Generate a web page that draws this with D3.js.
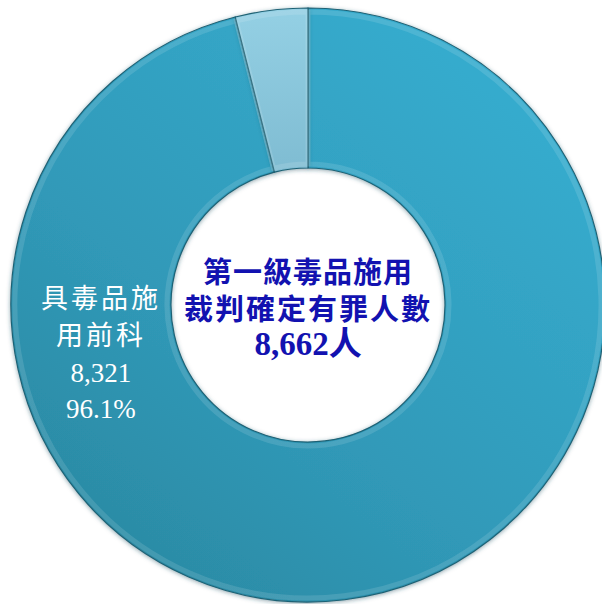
<!DOCTYPE html>
<html>
<head>
<meta charset="utf-8">
<script src="https://cdn.jsdelivr.net/npm/d3@7"></script>
<style>
  html, body { margin: 0; padding: 0; background: #fff; }
</style>
</head>
<body>
<svg id="chart" width="602" height="604"></svg>
<script>
// data
var categories = ["具毒品施用前科", "無毒品施用前科"];
var values = [8321, 341];
var percents = ["96.1%", "3.9%"];
var centerLines = ["第一級毒品施用", "裁判確定有罪人數", "8,662人"];
var labelLines = ["具毒品施", "用前科", "8,321", "96.1%"];

var svg = d3.select("#chart"),
    cx = 308, cy = 305,
    outerR = 297, innerR = 137;

var defs = svg.append("defs");

// big slice gradient: light at top right, darker to bottom left
var grad = defs.append("linearGradient")
    .attr("id", "bigGrad")
    .attr("gradientUnits", "userSpaceOnUse")
    .attr("x1", cx + 200).attr("y1", cy - 250)
    .attr("x2", cx - 220).attr("y2", cy + 260);
grad.append("stop").attr("offset", "0%").attr("stop-color", "#36abcd");
grad.append("stop").attr("offset", "55%").attr("stop-color", "#3099b8");
grad.append("stop").attr("offset", "100%").attr("stop-color", "#2a879f");

var grad2 = defs.append("linearGradient")
    .attr("id", "smallGrad")
    .attr("x1", 0).attr("y1", 0).attr("x2", 0).attr("y2", 1);
grad2.append("stop").attr("offset", "0%").attr("stop-color", "#94d0e4");
grad2.append("stop").attr("offset", "100%").attr("stop-color", "#7fbcd2");

var shadow = defs.append("filter")
    .attr("id", "shadow")
    .attr("x", "-10%").attr("y", "-10%")
    .attr("width", "120%").attr("height", "120%");
shadow.append("feDropShadow")
    .attr("dx", 0).attr("dy", 1)
    .attr("stdDeviation", 2)
    .attr("flood-color", "#1b4f5e")
    .attr("flood-opacity", 0.5);

var colors = ["url(#bigGrad)", "url(#smallGrad)"];

var pie = d3.pie().sort(null).value(function(d) { return d; });
var arc = d3.arc().innerRadius(innerR).outerRadius(outerR);
var edgeArc = d3.arc().innerRadius(innerR + 4).outerRadius(outerR - 4);

var group = svg.append("g")
    .attr("transform", "translate(" + cx + "," + cy + ")");

var slices = group.selectAll("g.slice")
    .data(pie(values))
    .enter().append("g")
    .attr("class", "slice");

slices.append("path")
    .attr("d", arc)
    .attr("fill", function(d, i) { return colors[i]; })
    .attr("stroke", "#1f6275")
    .attr("stroke-width", 1.2)
    .attr("filter", "url(#shadow)");

// soft bevel highlight inside each slice
slices.append("path")
    .attr("d", edgeArc)
    .attr("fill", "none")
    .attr("stroke", "#ffffff")
    .attr("stroke-opacity", 0.12)
    .attr("stroke-width", 5);

// label of the big slice, on the left side of the ring
var labelAngle = 4.44, labelR = 215;
var lx = labelR * Math.sin(labelAngle),
    ly = -labelR * Math.cos(labelAngle);
var label = group.append("text")
    .attr("transform", "translate(" + lx + "," + ly + ")")
    .attr("text-anchor", "middle")
    .attr("fill", "#ffffff")
    .attr("font-family", "'Liberation Serif', 'Noto Sans CJK TC', serif")
    .attr("font-size", 27);
var labelDy = [-55, -18, 19, 55];
label.selectAll("tspan")
    .data(labelLines)
    .enter().append("tspan")
    .attr("x", 0)
    .attr("y", function(d, i) { return labelDy[i]; })
    .attr("letter-spacing", function(d, i) { return i < 2 ? 3 : 0; })
    .text(function(d) { return d; });

// centre text
var centre = group.append("text")
    .attr("text-anchor", "middle")
    .attr("fill", "#1212b0")
    .attr("font-family", "'Liberation Serif', 'Noto Sans CJK TC', serif")
    .attr("font-weight", "bold");
var centreDy = [-22, 15, 50];
var centreSize = [29, 29, 33];
var centreSpacing = [1, 2, 0];
centre.selectAll("tspan")
    .data(centerLines)
    .enter().append("tspan")
    .attr("x", 0)
    .attr("y", function(d, i) { return centreDy[i]; })
    .attr("font-size", function(d, i) { return centreSize[i]; })
    .attr("letter-spacing", function(d, i) { return centreSpacing[i]; })
    .text(function(d) { return d; });
</script>
</body>
</html>
